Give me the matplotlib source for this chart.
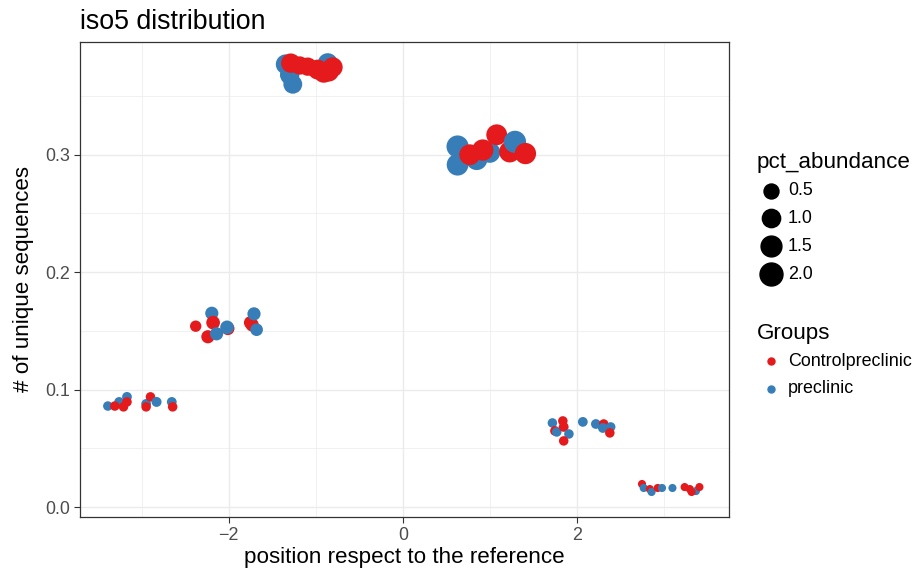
import numpy as np
import matplotlib
matplotlib.use("Agg")
import matplotlib.pyplot as plt
from matplotlib.lines import Line2D
from matplotlib.ticker import FixedLocator

plt.rcParams['font.family'] = ['Liberation Sans', 'DejaVu Sans']

# data: position, # unique sequences, pct_abundance, group
position = [
    -1.345, -1.30, -1.264, -0.862, -1.287, -1.184, -1.092, -0.977, -0.908, -0.851, -0.805,
    0.63, 0.63, 0.85, 1.00, 0.77, 0.92, 1.08, 1.23, 1.29, 1.41,
    -2.38, -2.195, -2.18, -2.24, -2.14, -2.01, -2.02, -1.75, -1.73, -1.71, -1.68,
    -3.39, -3.26, -3.17, -3.31, -3.21, -3.17, -2.95, -2.95, -2.90, -2.83, -2.655, -2.645,
    1.72, 1.84, 1.75, 1.77, 1.85, 1.91, 1.85, 2.07, 2.22, 2.31, 2.30, 2.39, 2.38,
    2.75, 2.77, 2.84, 2.86, 2.93, 2.98, 3.10, 3.24, 3.30, 3.37, 3.41, 3.32,
]
n_unique = [
    0.377, 0.368, 0.360, 0.378, 0.378, 0.376, 0.375, 0.3725, 0.370, 0.371, 0.3745,
    0.307, 0.2915, 0.296, 0.302, 0.300, 0.304, 0.317, 0.3025, 0.311, 0.301,
    0.154, 0.165, 0.157, 0.145, 0.1475, 0.152, 0.153, 0.157, 0.155, 0.1645, 0.151,
    0.086, 0.0895, 0.0938, 0.086, 0.0853, 0.0895, 0.0878, 0.0853, 0.0938, 0.0895, 0.0895, 0.0853,
    0.0716, 0.0733, 0.0648, 0.0639, 0.0682, 0.0622, 0.0563, 0.0725, 0.0707, 0.0707, 0.0673, 0.0682, 0.0631,
    0.0196, 0.0162, 0.0153, 0.0128, 0.0162, 0.0162, 0.0162, 0.017, 0.0153, 0.0136, 0.017, 0.0128,
]
pct_abundance = [
    1.3, 1.2, 1.1, 1.3, 1.2, 1.0, 1.0, 1.3, 1.4, 1.4, 1.3,
    1.8, 1.7, 1.6, 1.5, 1.5, 1.6, 1.5, 1.6, 1.8, 1.6,
    0.15, 0.3, 0.35, 0.3, 0.3, 0.3, 0.35, 0.3, 0.3, 0.3, 0.25,
    0.05, 0.06, 0.06, 0.05, 0.05, 0.05, 0.06, 0.05, 0.05, 0.07, 0.06, 0.05,
    0.05, 0.05, 0.06, 0.05, 0.06, 0.05, 0.05, 0.06, 0.06, 0.05, 0.06, 0.05, 0.05,
    0.01, 0.01, 0.01, 0.01, 0.01, 0.01, 0.01, 0.01, 0.01, 0.01, 0.01, 0.01,
]
group = (
    ["preclinic"] * 4 + ["Controlpreclinic"] * 7
    + ["preclinic"] * 4 + ["Controlpreclinic"] * 4 + ["preclinic", "Controlpreclinic"]
    + ["Controlpreclinic", "preclinic", "Controlpreclinic", "Controlpreclinic", "preclinic",
       "Controlpreclinic", "preclinic", "Controlpreclinic", "Controlpreclinic", "preclinic", "preclinic"]
    + ["preclinic"] * 3 + ["Controlpreclinic"] * 3 + ["preclinic", "Controlpreclinic",
       "Controlpreclinic", "preclinic", "preclinic", "Controlpreclinic"]
    + ["preclinic", "Controlpreclinic", "Controlpreclinic", "preclinic", "Controlpreclinic",
       "preclinic", "Controlpreclinic", "preclinic", "preclinic", "Controlpreclinic", "preclinic",
       "preclinic", "Controlpreclinic"]
    + ["Controlpreclinic", "preclinic", "Controlpreclinic", "preclinic", "Controlpreclinic",
       "preclinic", "preclinic", "Controlpreclinic", "Controlpreclinic", "preclinic",
       "Controlpreclinic", "Controlpreclinic"]
)

group_colors = {"Controlpreclinic": "#E41A1C", "preclinic": "#377EB8"}
size_breaks = [0.5, 1.0, 1.5, 2.0]

DPI = 100


def diam_pt(v):
    # marker diameter in points for an abundance value
    return (7 + 11.3 * np.sqrt(v)) * 72 / DPI


fig = plt.figure(figsize=(914 / DPI, 569 / DPI), dpi=DPI)
W, H = 914, 569
ax = fig.add_axes([80 / W, 1 - 517 / H, 649 / W, 475 / H])

ax.scatter(position, n_unique,
           s=[diam_pt(v) ** 2 for v in pct_abundance],
           c=[group_colors[g] for g in group],
           linewidths=0, zorder=3)

ax.set_xlim(-3.71, 3.75)
ax.set_ylim(-0.0085, 0.396)
ax.set_xticks([-2, 0, 2])
ax.set_yticks([0.0, 0.1, 0.2, 0.3])
ax.set_yticklabels(["0.0", "0.1", "0.2", "0.3"])
ax.xaxis.set_minor_locator(FixedLocator([-3, -1, 1, 3]))
ax.yaxis.set_minor_locator(FixedLocator([0.05, 0.15, 0.25, 0.35]))
ax.grid(which='major', color='#EBEBEB', linewidth=1.0, zorder=0)
ax.grid(which='minor', color='#EBEBEB', linewidth=0.5, zorder=0)
ax.set_axisbelow(True)
ax.tick_params(which='major', length=4, width=0.8, color='#333333',
               labelsize=12.9, labelcolor='#4D4D4D', pad=3)
ax.tick_params(which='minor', length=0)
for sp in ax.spines.values():
    sp.set_color('#333333')
    sp.set_linewidth(0.9)

fig.text(80 / W, 1 - 29 / H, "iso5 distribution", fontsize=19.3, ha='left', va='baseline')
fig.text(404.5 / W, 1 - 563.5 / H, "position respect to the reference", fontsize=16.1,
         ha='center', va='baseline')
fig.text(24 / W, 1 - 279.5 / H, "# of unique sequences", fontsize=16.1,
         ha='center', va='center', rotation=90)

# legend: size
fig.text(757 / W, 1 - 168 / H, "pct_abundance", fontsize=16.1, ha='left', va='baseline')
for i, b in enumerate(size_breaks):
    yk = 1 - (190.7 + 27.8 * i) / H
    fig.add_artist(Line2D([771 / W], [yk], transform=fig.transFigure, marker='o',
                          markersize=diam_pt(b), color='black', linestyle='none'))
    fig.text(788 / W, yk, f"{b:.1f}", fontsize=12.9, ha='left', va='center')

# legend: groups
fig.text(757 / W, 1 - 339 / H, "Groups", fontsize=16.1, ha='left', va='baseline')
for i, g in enumerate(["Controlpreclinic", "preclinic"]):
    yk = 1 - (361 + 27.8 * i) / H
    fig.add_artist(Line2D([771 / W], [yk], transform=fig.transFigure, marker='o',
                          markersize=7 * 72 / DPI, color=group_colors[g], linestyle='none'))
    fig.text(788 / W, yk, g, fontsize=12.9, ha='left', va='center')

fig.savefig("out.png", dpi=DPI)
